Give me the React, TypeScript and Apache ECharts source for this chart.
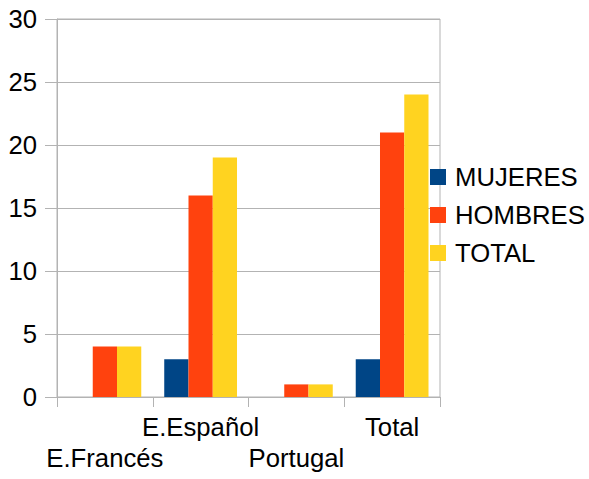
import React, { useEffect, useRef } from "react";
import * as echarts from "echarts";

const categories = ["E.Francés", "E.Español", "Portugal", "Total"];
const mujeres = [0, 3, 0, 3];
const hombres = [4, 16, 1, 21];
const total = [4, 19, 1, 24];
const seriesNames = ["MUJERES", "HOMBRES", "TOTAL"];
const colors = ["#004586", "#ff420e", "#ffd320"];

export default function App() {
  const ref = useRef<HTMLDivElement>(null);
  useEffect(() => {
    if (!ref.current) return;
    const chart = echarts.init(ref.current, null, { renderer: "svg" });
    const font = "'Liberation Sans', Arial, sans-serif";
    const gridColor = "#b3b3b3";
    const fs = 25.7;
    const data = [mujeres, hombres, total];
    chart.setOption({
      animation: false,
      textStyle: { fontFamily: font },
      grid: {
        left: 57,
        right: 149,
        top: 19,
        bottom: 82,
        show: true,
        borderColor: gridColor,
        borderWidth: 1,
        backgroundColor: "transparent",
      },
      legend: {
        orient: "vertical",
        left: 430,
        top: 164,
        padding: 0,
        itemWidth: 16,
        itemHeight: 16,
        itemGap: 12,
        icon: "rect",
        textStyle: {
          fontSize: fs,
          color: "#000",
          fontFamily: font,
          lineHeight: 26,
          padding: [0, 0, 0, 4],
        },
        data: seriesNames,
      },
      xAxis: {
        type: "category",
        data: categories,
        axisLine: { show: true, lineStyle: { color: gridColor } },
        axisTick: { show: true, length: 10, lineStyle: { color: gridColor } },
        axisLabel: {
          interval: 0,
          color: "#000",
          fontSize: fs,
          fontFamily: font,
          lineHeight: 31,
          margin: 14,
          formatter: (v: string, i: number) => (i % 2 === 0 ? "\n" + v : v),
        },
      },
      yAxis: {
        type: "value",
        min: 0,
        max: 30,
        interval: 5,
        axisLine: { show: true, lineStyle: { color: gridColor } },
        axisTick: { show: true, length: 12, lineStyle: { color: gridColor } },
        splitLine: { show: true, lineStyle: { color: gridColor } },
        axisLabel: { color: "#000", fontSize: fs, fontFamily: font, margin: 20 },
      },
      series: seriesNames.map((name, k) => ({
        name,
        type: "bar",
        data: data[k],
        barGap: "0%",
        barCategoryGap: "24%",
        itemStyle: { color: colors[k] },
      })),
    });
    return () => chart.dispose();
  }, []);
  return (
    <div
      ref={ref}
      style={{ position: "absolute", left: 0, top: 0, width: 589, height: 479, overflow: "hidden" }}
    />
  );
}
